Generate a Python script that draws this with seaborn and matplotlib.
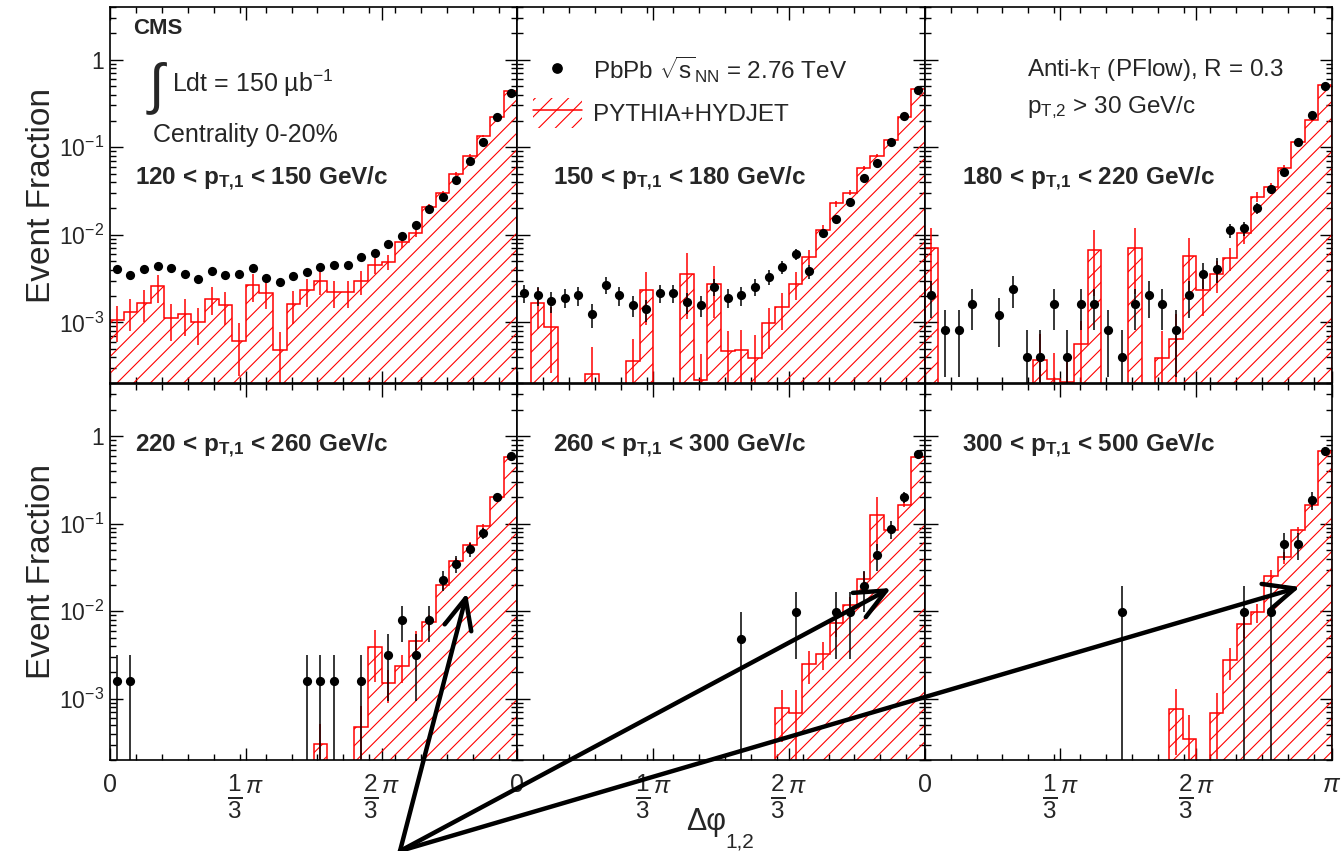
import numpy as np
import matplotlib
matplotlib.use("Agg")
import matplotlib.pyplot as plt
import seaborn as sns
from matplotlib.patches import Patch, FancyArrowPatch
from matplotlib.lines import Line2D
from matplotlib.ticker import LogLocator, FixedLocator, MultipleLocator, FuncFormatter, NullFormatter

nan = np.nan

# ---------------------------------------------------------------- data
pt_bins = ["120 < ", "150 < ", "180 < ", "220 < ", "260 < ", "300 < "]
pt_high = [" < 150 GeV/c", " < 180 GeV/c", " < 220 GeV/c",
           " < 260 GeV/c", " < 300 GeV/c", " < 500 GeV/c"]

# PbPb data, event fraction per dphi bin (30 bins from 0 to pi)
data_120 = [4.1e-3, 3.5e-3, 4.1e-3, 4.4e-3, 4.2e-3, 3.6e-3, 3.1e-3, 3.9e-3, 3.5e-3, 3.6e-3,
            4.2e-3, 3.2e-3, 2.9e-3, 3.4e-3, 3.8e-3, 4.3e-3, 4.5e-3, 4.5e-3, 5.6e-3, 6.2e-3,
            7.8e-3, 9.7e-3, 1.29e-2, 1.95e-2, 2.72e-2, 4.2e-2, 6.98e-2, 0.116, 0.224, 0.415]
err_120 = [3.2e-4, 3.0e-4, 3.2e-4, 3.3e-4, 3.2e-4, 3.0e-4, 2.8e-4, 3.1e-4, 3.0e-4, 3.0e-4,
           3.2e-4, 2.8e-4, 2.7e-4, 2.9e-4, 3.1e-4, 3.3e-4, 3.4e-4, 3.4e-4, 3.7e-4, 3.9e-4,
           4.4e-4, 4.9e-4, 5.7e-4, 7.0e-4, 8.2e-4, 1.0e-3, 1.3e-3, 1.7e-3, 2.4e-3, 3.2e-3]

data_150 = [2.19e-3, 2.04e-3, 1.74e-3, 1.92e-3, 2.04e-3, 1.24e-3, 2.70e-3, 2.04e-3, 1.57e-3, 1.41e-3,
            2.19e-3, 2.19e-3, 1.71e-3, 1.57e-3, 2.54e-3, 1.92e-3, 2.04e-3, 2.54e-3, 3.30e-3, 4.30e-3,
            5.96e-3, 3.84e-3, 1.05e-2, 1.50e-2, 2.39e-2, 4.42e-2, 6.56e-2, 0.116, 0.229, 0.453]
err_150 = [5.1e-4, 4.9e-4, 4.6e-4, 4.8e-4, 4.9e-4, 3.9e-4, 5.7e-4, 4.9e-4, 4.3e-4, 4.1e-4,
           5.1e-4, 5.1e-4, 4.5e-4, 4.3e-4, 5.5e-4, 4.8e-4, 4.9e-4, 5.5e-4, 6.3e-4, 7.2e-4,
           8.5e-4, 6.8e-4, 1.1e-3, 1.3e-3, 1.7e-3, 2.3e-3, 2.8e-3, 3.7e-3, 5.2e-3, 7.4e-3]

data_180 = [2.04e-3, 8.1e-4, 8.1e-4, 1.62e-3, nan, 1.22e-3, 2.43e-3, 4.05e-4, 4.05e-4, 1.62e-3,
            4.05e-4, 1.62e-3, 1.62e-3, 8.1e-4, 4.05e-4, 1.62e-3, 2.04e-3, 1.62e-3, 8.1e-4, 2.04e-3,
            3.61e-3, 4.1e-3, 1.13e-2, 1.18e-2, 2.0e-2, 3.31e-2, 5.26e-2, 0.116, 0.235, 0.504]
err_180 = [9.1e-4, 5.7e-4, 5.7e-4, 8.1e-4, nan, 7.0e-4, 9.9e-4, 4.05e-4, 4.05e-4, 8.1e-4,
           4.05e-4, 8.1e-4, 8.1e-4, 5.7e-4, 4.05e-4, 8.1e-4, 9.1e-4, 8.1e-4, 5.7e-4, 9.1e-4,
           1.2e-3, 1.28e-3, 2.1e-3, 2.2e-3, 2.8e-3, 3.7e-3, 4.6e-3, 6.8e-3, 9.8e-3, 1.4e-2]

data_220 = [1.6e-3, 1.6e-3, nan, nan, nan, nan, nan, nan, nan, nan,
            nan, nan, nan, nan, 1.6e-3, 1.6e-3, 1.6e-3, nan, 1.6e-3, nan,
            3.2e-3, 8.0e-3, 3.2e-3, 8.0e-3, 2.3e-2, 3.5e-2, 5.1e-2, 7.8e-2, 0.200, 0.590]
err_220 = [1.6e-3, 1.6e-3, nan, nan, nan, nan, nan, nan, nan, nan,
           nan, nan, nan, nan, 1.6e-3, 1.6e-3, 1.6e-3, nan, 1.6e-3, nan,
           2.26e-3, 3.6e-3, 2.26e-3, 3.6e-3, 6.0e-3, 7.5e-3, 9.0e-3, 1.1e-2, 1.8e-2, 3.1e-2]

data_260 = [nan, nan, nan, nan, nan, nan, nan, nan, nan, nan,
            nan, nan, nan, nan, nan, nan, 4.85e-3, nan, nan, nan,
            9.7e-3, nan, nan, 9.7e-3, 9.7e-3, 1.94e-2, 4.37e-2, 8.7e-2, 0.202, 0.633]
err_260 = [nan, nan, nan, nan, nan, nan, nan, nan, nan, nan,
           nan, nan, nan, nan, nan, nan, 4.85e-3, nan, nan, nan,
           6.86e-3, nan, nan, 6.86e-3, 6.86e-3, 9.7e-3, 1.46e-2, 2.06e-2, 3.1e-2, 5.5e-2]

data_300 = [nan, nan, nan, nan, nan, nan, nan, nan, nan, nan,
            nan, nan, nan, nan, 9.8e-3, nan, nan, nan, nan, nan,
            nan, nan, nan, 9.8e-3, nan, 9.8e-3, 5.9e-2, 5.9e-2, 0.186, 0.676]
err_300 = [nan, nan, nan, nan, nan, nan, nan, nan, nan, nan,
           nan, nan, nan, nan, 9.8e-3, nan, nan, nan, nan, nan,
           nan, nan, nan, 9.8e-3, nan, 9.8e-3, 2.0e-2, 2.0e-2, 4.3e-2, 8.1e-2]

# PYTHIA+HYDJET simulation, event fraction and relative uncertainty per bin
mc_120 = [1.07e-3, 1.31e-3, 1.66e-3, 2.58e-3, 1.12e-3, 1.26e-3, 1.01e-3, 1.87e-3, 1.57e-3, 6.1e-4,
          2.65e-3, 2.19e-3, 4.8e-4, 1.61e-3, 2.32e-3, 2.94e-3, 2.22e-3, 2.22e-3, 2.94e-3, 4.5e-3,
          4.9e-3, 8.3e-3, 1.06e-2, 2.09e-2, 2.97e-2, 4.95e-2, 8.0e-2, 0.135, 0.224, 0.434]
mc_rel_120 = [0.45, 0.4, 0.4, 0.35, 0.45, 0.45, 0.45, 0.35, 0.4, 0.6,
              0.35, 0.35, 0.6, 0.4, 0.35, 0.3, 0.35, 0.35, 0.3, 0.2,
              0.2, 0.15, 0.12, 0.08, 0.07, 0.05, 0.04, 0.03, 0.03, 0.02]

mc_150 = [0, 1.66e-3, 8.85e-4, 0, 0, 2.58e-4, 0, 0, 3.61e-4, 2.32e-3,
          0, 0, 3.61e-3, 2.17e-4, 2.77e-3, 4.70e-4, 4.86e-4, 3.94e-4, 9.8e-4, 1.50e-3,
          2.77e-3, 5.6e-3, 1.13e-2, 2.28e-2, 3.03e-2, 5.75e-2, 8.03e-2, 0.121, 0.224, 0.462]
mc_rel_150 = [0, 0.5, 0.7, 0, 0, 1.0, 0, 0, 0.8, 0.6,
              0, 0, 0.7, 1.0, 0.6, 0.7, 0.7, 0.8, 0.5, 0.45,
              0.35, 0.2, 0.15, 0.08, 0.07, 0.05, 0.04, 0.03, 0.03, 0.02]

mc_180 = [6.98e-3, 0, 0, 0, 0, 0, 0, 0, 3.67e-4, 2.26e-4,
          2.1e-4, 5.7e-4, 6.67e-3, 0, 0, 6.98e-3, 0, 3.94e-4, 6.5e-4, 5.75e-3,
          2.37e-3, 3.6e-3, 5.45e-3, 1.04e-2, 2.72e-2, 3.55e-2, 5.75e-2, 0.116, 0.206, 0.517]
mc_rel_180 = [0.7, 0, 0, 0, 0, 0, 0, 0, 1.0, 1.0,
              1.0, 0.8, 0.7, 0, 0, 0.7, 0, 1.0, 0.9, 0.6,
              0.5, 0.4, 0.3, 0.25, 0.12, 0.1, 0.08, 0.05, 0.04, 0.03]

mc_220 = [0, 0, 0, 0, 0, 0, 0, 0, 0, 0,
          0, 0, 0, 0, 0, 3.03e-4, 0, 0, 4.82e-4, 3.86e-3,
          1.51e-3, 2.34e-3, 4.52e-3, 7.52e-3, 1.98e-2, 3.72e-2, 5.66e-2, 9.35e-2, 0.200, 0.575]
mc_rel_220 = [0, 0, 0, 0, 0, 0, 0, 0, 0, 0,
              0, 0, 0, 0, 0, 0.7, 0, 0, 0.7, 0.6,
              0.4, 0.35, 0.3, 0.2, 0.12, 0.1, 0.08, 0.06, 0.04, 0.03]

mc_260 = [0, 0, 0, 0, 0, 0, 0, 0, 0, 0,
          0, 0, 0, 0, 0, 0, 0, 0, 0, 7.95e-4,
          6.96e-4, 2.49e-3, 3.27e-3, 7.33e-3, 1.17e-2, 2.33e-2, 0.125, 8.57e-2, 0.165, 0.575]
mc_rel_260 = [0, 0, 0, 0, 0, 0, 0, 0, 0, 0,
              0, 0, 0, 0, 0, 0, 0, 0, 0, 0.6,
              0.8, 0.4, 0.35, 0.3, 0.25, 0.2, 0.6, 0.1, 0.07, 0.04]

mc_300 = [0, 0, 0, 0, 0, 0, 0, 0, 0, 0,
          0, 0, 0, 0, 0, 0, 0, 0, 7.67e-4, 3.45e-4,
          0, 6.85e-4, 2.74e-3, 7.14e-3, 9.8e-3, 2.5e-2, 4.13e-2, 8.41e-2, 0.165, 0.686]
mc_rel_300 = [0, 0, 0, 0, 0, 0, 0, 0, 0, 0,
              0, 0, 0, 0, 0, 0, 0, 0, 0.7, 0.9,
              0, 0.7, 0.4, 0.3, 0.25, 0.2, 0.15, 0.1, 0.07, 0.04]

panel_data = [data_120, data_150, data_180, data_220, data_260, data_300]
panel_err = [err_120, err_150, err_180, err_220, err_260, err_300]
panel_mc = [mc_120, mc_150, mc_180, mc_220, mc_260, mc_300]
panel_mc_rel = [mc_rel_120, mc_rel_150, mc_rel_180, mc_rel_220, mc_rel_260, mc_rel_300]

y_tick_labels = {1.0: "1", 0.1: r"$10^{-1}$", 0.01: r"$10^{-2}$", 0.001: r"$10^{-3}$"}
x_tick_labels = ["0", r"$\frac{1}{3}{}^{\pi}$", r"$\frac{2}{3}{}^{\pi}$", r"$\pi$"]
x_tick_sizes = [18, 25, 25, 18]

# ---------------------------------------------------------------- style
sns.set_theme(style="ticks")
plt.rcParams["font.family"] = ["Liberation Sans", "DejaVu Sans"]
plt.rcParams["mathtext.fontset"] = "custom"
plt.rcParams["mathtext.rm"] = "Liberation Sans"
plt.rcParams["mathtext.it"] = "Liberation Sans:italic"
plt.rcParams["mathtext.bf"] = "Liberation Sans:bold"
plt.rcParams["mathtext.sf"] = "Liberation Sans"
plt.rcParams["hatch.linewidth"] = 0.8
plt.rcParams["hatch.color"] = "red"

W, H = 1343, 851
fig, axes = plt.subplots(2, 3, figsize=(W / 100, H / 100), dpi=100)
fig.subplots_adjust(left=110 / W, right=1332 / W, top=1 - 7 / H, bottom=1 - 760 / H,
                    wspace=0, hspace=0)


def fx(px):
    return px / W


def fy(py):
    return 1 - py / H


edges = np.linspace(0, np.pi, 31)
centers = 0.5 * (edges[:-1] + edges[1:])
FLOOR = 1e-9

for i, ax in enumerate(axes.flat):
    row, col = divmod(i, 3)
    data = np.array(panel_data[i], dtype=float)
    err = np.array(panel_err[i], dtype=float)
    mc = np.array(panel_mc[i], dtype=float)
    mc_err = mc * np.array(panel_mc_rel[i], dtype=float)

    ax.set_yscale("log")
    ax.set_xlim(0, np.pi)
    ax.set_ylim(2e-4, 4.0)

    # simulation: hatched histogram with red outline and error bars
    mc_draw = np.where(mc > 0, mc, FLOOR)
    ax.stairs(mc_draw, edges, baseline=FLOOR, fill=True, facecolor="none",
              edgecolor="red", hatch="//", linewidth=0, zorder=1)
    ax.stairs(mc_draw, edges, baseline=FLOOR, fill=False, color="red",
              linewidth=1.1, zorder=2)
    m = mc > 0
    ax.vlines(centers[m], np.maximum(mc[m] - mc_err[m], FLOOR), mc[m] + mc_err[m],
              color="red", linewidth=1.1, zorder=2)

    # data: black points with vertical error bars
    d = ~np.isnan(data)
    ax.vlines(centers[d], np.maximum(data[d] - err[d], FLOOR), data[d] + err[d],
              color="black", linewidth=1.1, zorder=4)
    sns.scatterplot(x=centers[d], y=data[d], ax=ax, color="black", s=44,
                    edgecolor="black", linewidth=0, legend=False, zorder=5)

    # ticks on all four sides, pointing inward
    ax.yaxis.set_major_locator(LogLocator(base=10, numticks=10))
    ax.yaxis.set_minor_locator(LogLocator(base=10, subs=np.arange(2, 10), numticks=10))
    ax.yaxis.set_minor_formatter(NullFormatter())
    ax.yaxis.set_major_formatter(FuncFormatter(
        lambda v, p: y_tick_labels.get(round(v, 6), "")))
    ax.xaxis.set_major_locator(FixedLocator([0, np.pi / 3, 2 * np.pi / 3, np.pi]))
    ax.xaxis.set_minor_locator(MultipleLocator(0.2))
    labels = list(x_tick_labels)
    if col < 2:
        labels[-1] = ""

    ax.tick_params(which="both", direction="in", top=True, right=True,
                   bottom=True, left=True, color="black", width=1.0)
    ax.tick_params(which="major", length=9)
    ax.tick_params(which="minor", length=4.5)
    ax.tick_params(axis="y", labelsize=16.5, pad=4, labelleft=(col == 0))
    ax.tick_params(axis="x", pad=9, labelbottom=(row == 1))
    texts = ax.set_xticklabels(labels)
    for t, fs in zip(texts, x_tick_sizes):
        t.set_fontsize(fs)
    for sp in ax.spines.values():
        sp.set_color("black")
        sp.set_linewidth(1.2)
    ax.set_xlabel("")
    ax.set_ylabel("")
    if col == 0:
        ax.set_ylabel("Event Fraction", fontsize=24)
        ax.yaxis.set_label_coords(-0.13, 0.5)

    # transverse momentum selection of each panel
    lx = [135, 553, 962][col]
    ly = [185, 452][row]
    fig.text(fx(lx), fy(ly),
             pt_bins[i] + r"$\mathbf{p}_{\mathbf{T{,}1}}$" + pt_high[i],
             fontsize=17.5, fontweight="bold", va="baseline", ha="left")

# annotations
fig.text(fx(133), fy(34), "CMS", fontsize=16, fontweight="bold", va="baseline")
fig.text(fx(149), fy(102), "\u222b", fontsize=40, va="baseline")
fig.text(fx(172), fy(92), r"Ldt = 150 µb$^{\mathregular{-1}}$", fontsize=18, va="baseline")
fig.text(fx(153), fy(142), "Centrality 0-20%", fontsize=18, va="baseline")
fig.text(fx(1027), fy(76), r"Anti-k$_{\mathregular{T}}$ (PFlow), R = 0.3",
         fontsize=17.5, va="baseline")
fig.text(fx(1027), fy(113), r"p$_{\mathregular{T{,}2}}$ > 30 GeV/c",
         fontsize=17.5, va="baseline")

# legend
ax_leg = axes[0, 1]
h_data = Line2D([], [], marker="o", linestyle="none", color="black", markersize=6.7)
h_mc = (Patch(facecolor="none", edgecolor="red", hatch="//", linewidth=0),
        Line2D([], [], color="red", linewidth=1.1))
ax_leg.legend([h_data, h_mc],
              [r"PbPb $\sqrt{\mathregular{s}}_{\mathregular{NN}}$ = 2.76 TeV", "PYTHIA+HYDJET"],
              loc="upper left", bbox_to_anchor=(fx(533), fy(55)),
              bbox_transform=fig.transFigure, frameon=False, fontsize=17.5,
              handlelength=2.0, handleheight=1.5, handletextpad=0.45,
              labelspacing=0.5, borderpad=0, borderaxespad=0)

# x axis title
fig.text(fx(686), fy(830), "\u0394\u03c6", fontsize=22, ha="left", va="baseline")
fig.text(fx(725), fy(847), "1,2", fontsize=15, ha="left", va="baseline")

# arrows
start = (fx(400), fy(851))
for tip in [(467, 593), (891, 588), (1300, 587)]:
    arr = FancyArrowPatch(posA=start, posB=(fx(tip[0]), fy(tip[1])),
                          transform=fig.transFigure,
                          arrowstyle="->,head_length=1.0,head_width=0.45",
                          mutation_scale=22, linewidth=3.2, color="black",
                          shrinkA=0, shrinkB=0, zorder=20)
    fig.add_artist(arr)

fig.savefig("out.png", dpi=100)
